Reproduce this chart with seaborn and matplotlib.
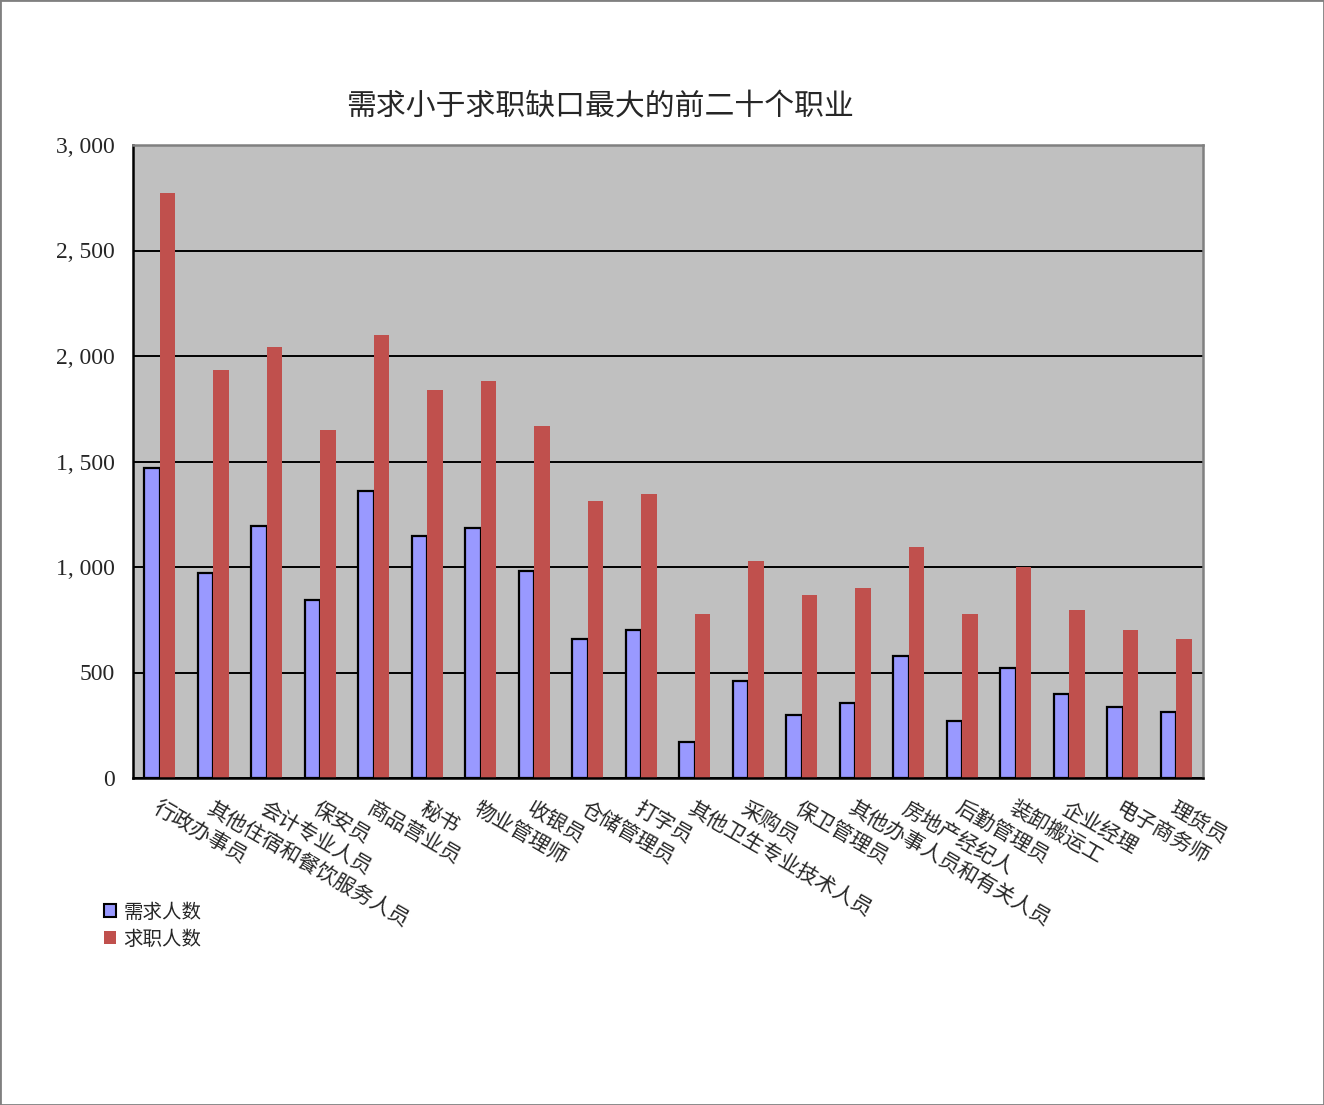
import matplotlib
matplotlib.use("Agg")
import matplotlib.pyplot as plt
from matplotlib.patches import Patch, Rectangle
import seaborn as sns
import pandas as pd

categories = ["行政办事员", "其他住宿和餐饮服务人员", "会计专业人员", "保安员", "商品营业员",
              "秘书", "物业管理师", "收银员", "仓储管理员", "打字员",
              "其他卫生专业技术人员", "采购员", "保卫管理员", "其他办事人员和有关人员", "房地产经纪人",
              "后勤管理员", "装卸搬运工", "企业经理", "电子商务师", "理货员"]
demand = [1469, 972, 1194, 844, 1360, 1147, 1185, 981, 659, 701,
          171, 460, 299, 355, 578, 270, 521, 398, 336, 313]
seekers = [2772, 1934, 2043, 1649, 2100, 1839, 1882, 1668, 1313, 1346,
           777, 1028, 867, 900, 1095, 777, 1000, 796, 701, 659]
series_names = ["需求人数", "求职人数"]
title = "需求小于求职缺口最大的前二十个职业"
yticks = [0, 500, 1000, 1500, 2000, 2500, 3000]

colors = {"需求人数": "#9999FF", "求职人数": "#C0504D"}

df = pd.DataFrame({
    "cat": categories * 2,
    "series": [series_names[0]] * len(categories) + [series_names[1]] * len(categories),
    "value": demand + seekers,
})

sns.set_style("white")
plt.rcParams['font.family'] = ['Noto Sans CJK SC', 'DejaVu Sans']

fig = plt.figure(figsize=(13.24, 11.05), dpi=100)
ax = fig.add_axes([133/1324, 1 - 778/1105, (1203-133)/1324, (778-145)/1105])
ax.set_facecolor("#C0C0C0")

sns.barplot(data=df, x="cat", y="value", hue="series", palette=colors,
            width=0.58, gap=0, dodge=True, ax=ax, legend=False, saturation=1)

for bar in ax.containers[0]:
    bar.set_edgecolor("black")
    bar.set_linewidth(1.6)
for bar in ax.containers[1]:
    bar.set_edgecolor("none")
    bar.set_linewidth(0)

ax.set_xlim(-0.5, len(categories) - 0.5)
ax.set_ylim(0, 3000)
ax.set_yticks(yticks)
ax.set_yticklabels([f"{v:,}".replace(",", ", ") for v in yticks],
                   fontfamily="Liberation Serif", fontsize=17)
ax.yaxis.grid(True, color="black", linewidth=1.4)
ax.set_axisbelow(True)

ax.set_xticks(range(len(categories)))
ax.set_xticklabels(categories, rotation=-30, ha="left", rotation_mode="anchor", fontsize=15)
ax.set_xticks([i - 0.5 for i in range(len(categories) + 1)], minor=True)
ax.tick_params(axis="x", which="major", length=0, pad=14)
ax.tick_params(axis="x", which="minor", direction="in", length=6, width=1.5, color="black")
ax.tick_params(axis="y", which="major", direction="in", length=6, width=1.5, color="black", pad=13)
ax.set_xlabel("")
ax.set_ylabel("")

for side in ["left", "bottom"]:
    ax.spines[side].set_color("black")
    ax.spines[side].set_linewidth(1.8)
for side in ["top", "right"]:
    ax.spines[side].set_color("#808080")
    ax.spines[side].set_linewidth(1.8)

fig.text(600/1324, 1 - 107/1105, title, ha="center", va="center", fontsize=21.5)

handles = [Patch(facecolor=colors["需求人数"], edgecolor="black", linewidth=1.5),
           Patch(facecolor=colors["求职人数"], edgecolor="none")]
fig.legend(handles, series_names, loc="upper left", bbox_to_anchor=(96/1324, 1 - 894/1105),
           frameon=False, fontsize=14, handlelength=0.65, handleheight=0.65,
           handletextpad=0.35, labelspacing=0.3, borderaxespad=0)

fig.patches.append(Rectangle((0, 0), 1, 1, transform=fig.transFigure, fill=False,
                             edgecolor="#808080", linewidth=2))

fig.savefig("out.png", dpi=100, facecolor="white")
